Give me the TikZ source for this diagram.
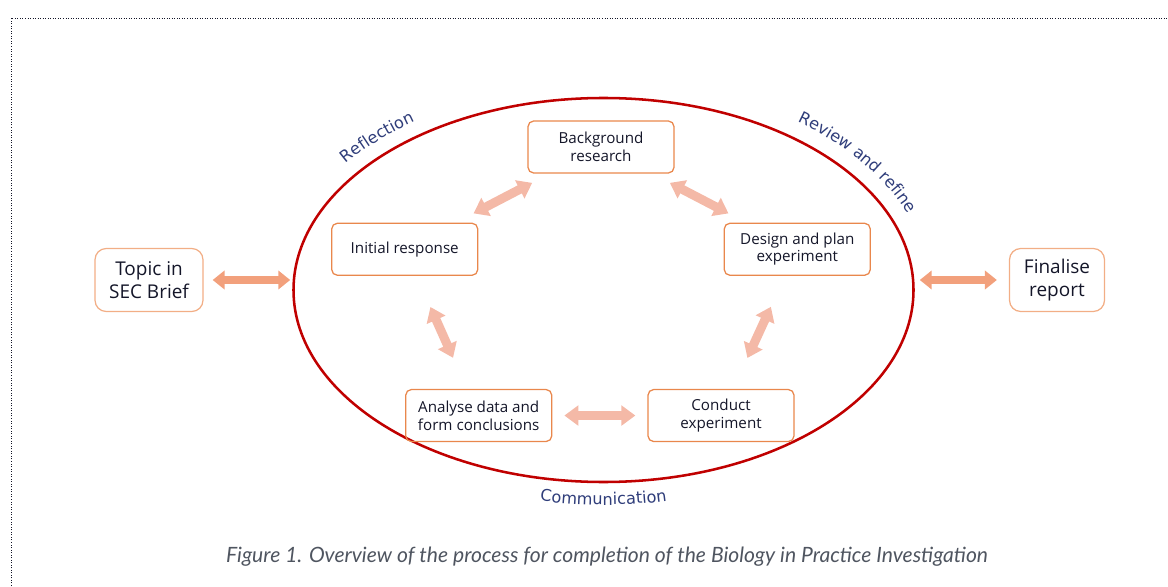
\documentclass[tikz,border=0pt]{standalone}
\usepackage{fontspec}
\usepackage{xcolor}
\usepackage{tikz}
\usetikzlibrary{arrows.meta, positioning, shapes.geometric, decorations.text}

\newfontfamily\boxfont{Open Sans}
\newfontfamily\tagfont{DejaVu Sans}
\newfontfamily\capfont{Lato}

\definecolor{ringred}{HTML}{C00000}
\definecolor{boxedge}{HTML}{E9874C}
\definecolor{endedge}{HTML}{F2AE86}
\definecolor{boxtext}{HTML}{141629}
\definecolor{flowfill}{HTML}{F4B9A7}
\definecolor{linkfill}{HTML}{F2A07C}
\definecolor{tagblue}{HTML}{2F3D7A}
\definecolor{capgray}{HTML}{4F5560}

\begin{document}
\begin{tikzpicture}[
        x=0.25mm, y=0.25mm,
        stage/.style={rectangle, draw=boxedge, line width=0.9pt, rounded corners=4pt, minimum width=36.5mm, minimum height=13mm, align=center, text=boxtext, font=\boxfont\fontsize{10.8}{12.5}\selectfont},
        endbox/.style={stage, draw=endedge, rounded corners=8pt, minimum height=15.75mm, font=\boxfont\fontsize{13.5}{16}\selectfont},
        flow/.style={draw=flowfill, line width=6.4pt, {Triangle[length=10pt, width=14pt]}-{Triangle[length=10pt, width=14pt]}},
        link/.style={draw=linkfill, line width=5pt, {Triangle[length=8.5pt, width=13pt]}-{Triangle[length=8.5pt, width=13pt]}},
        tag/.style={decorate, decoration={text along path, text align=center, text color=tagblue, text={|\tagfont\fontsize{11.5}{13}\selectfont|#1}}},
    ]
        \useasboundingbox (0,0) rectangle (1168,586);

        % Frame of the page
        \draw[boxtext, line width=0.7pt, dash pattern=on 0.7pt off 1.1pt] (11,0) -- (11,568) -- (1168,568);

        % Ring of the investigation
        \node[ellipse, draw=ringred, line width=1.8pt, minimum width=155mm, minimum height=96mm, inner sep=0pt] (ring) at (603.5,296) {};

        % Stages inside the ring
        \node[stage] (bg) at (601,439) {Background\\research};
        \node[stage, below left=12.25mm and 12.25mm of bg] (init) {Initial response};
        \node[stage, below right=12.25mm and 12.25mm of bg] (plan) {Design and plan\\experiment};
        \node[stage, below=28.25mm of init, xshift=18.5mm] (analyse) {Analyse data and\\form conclusions};
        \node[stage, right=23.75mm of analyse] (conduct) {Conduct\\experiment};

        % Start and end
        \node[endbox, minimum width=27mm] (topic) at (149,306) {Topic in\\SEC Brief};
        \node[endbox, minimum width=23.75mm] (final) at (1057,306) {Finalise\\report};

        % Arrows inside the ring
        \draw[flow, shorten <=5mm, shorten >=5mm] (init) -- (bg);
        \draw[flow, shorten <=5mm, shorten >=5mm] (bg) -- (plan);
        \draw[flow, shorten <=8.5mm, shorten >=8.5mm] (plan) -- (conduct);
        \draw[flow, shorten <=3mm, shorten >=3mm] (conduct) -- (analyse);
        \draw[flow, shorten <=8.5mm, shorten >=8.5mm] (analyse) -- (init);

        % Arrows to the ring
        \draw[link, shorten <=2.25mm, shorten >=0.5mm] (topic) -- (topic -| ring.west);
        \draw[link, shorten <=1.25mm, shorten >=3mm] (final -| ring.east) -- (final);

        % Labels round the ring
        \path[tag=Reflection] (ring.center) ++(158:325 and 207) arc[start angle=158, end angle=113, x radius=325, y radius=207];
        \path[tag=Review and refine] (ring.center) ++(62:327 and 209) arc[start angle=62, end angle=10, x radius=327, y radius=209];
        \path[tag=Communication] (ring.center) ++(245:325 and 215) arc[start angle=245, end angle=295, x radius=325, y radius=215];

        % Caption
        \node[font=\capfont\itshape\fontsize{15}{18}\selectfont, text=capgray] (caption) at (607,29) {Figure 1. Overview of the process for completion of the Biology in Practice Investigation};
    \end{tikzpicture}
\end{document}
